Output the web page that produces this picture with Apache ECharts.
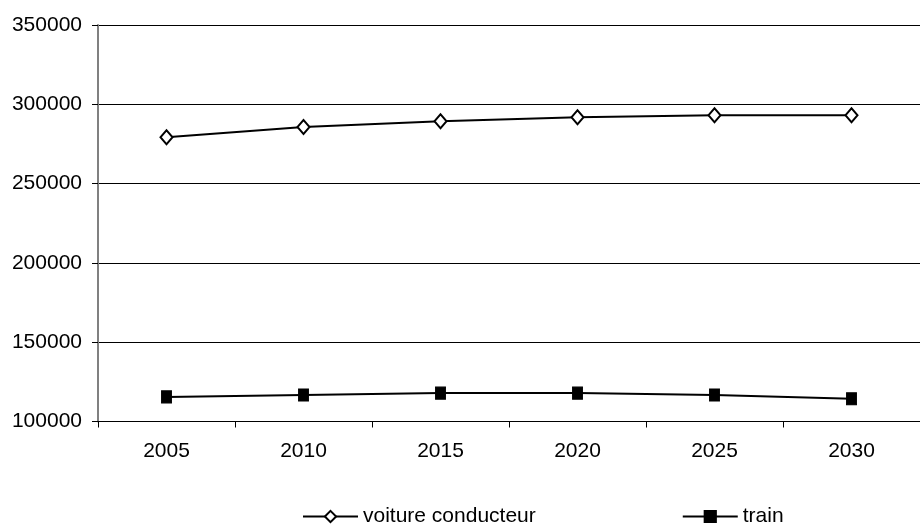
<!DOCTYPE html>
<html>
<head>
<meta charset="utf-8">
<script src="https://cdn.jsdelivr.net/npm/echarts@6/dist/echarts.min.js"></script>
<style>html,body{margin:0;padding:0;background:#fff;}#c{width:920px;height:525px;}</style>
</head>
<body>
<div id="c"></div>
<script>
const categories = ['2005', '2010', '2015', '2020', '2025', '2030'];
const voitureConducteur = [279200, 285700, 289300, 291800, 293100, 293100];
const train = [115500, 116700, 117900, 117900, 116700, 114300];
const seriesNames = ['voiture conducteur', 'train'];
const yTicks = { min: 100000, max: 350000, interval: 50000 };

const chart = echarts.init(document.getElementById('c'), null, { renderer: 'canvas' });
const font = 'Arial, "Liberation Sans", sans-serif';
chart.setOption({
  animation: false,
  backgroundColor: '#ffffff',
  grid: { left: 98, right: -12, top: 25, bottom: 103.5, containLabel: false },
  xAxis: {
    type: 'category',
    data: categories,
    boundaryGap: true,
    axisLine: { lineStyle: { color: '#000', width: 1 } },
    axisTick: { show: true, length: 6, lineStyle: { color: '#000' }, alignWithLabel: false },
    axisLabel: { color: '#000', fontSize: 21, fontFamily: font, margin: 19 },
    splitLine: { show: false }
  },
  yAxis: {
    type: 'value',
    min: yTicks.min, max: yTicks.max, interval: yTicks.interval,
    axisLine: { show: true, lineStyle: { color: '#808080', width: 2 } },
    axisTick: { show: true, length: 6, lineStyle: { color: '#000' } },
    axisLabel: { color: '#000', fontSize: 21, fontFamily: font, margin: 16, formatter: v => String(v) },
    splitLine: { show: true, lineStyle: { color: '#000', width: 1 } }
  },
  legend: {
    top: 501,
    left: 297,
    itemWidth: 55,
    itemHeight: 14,
    itemGap: 146,
    textStyle: { color: '#000', fontSize: 21, fontFamily: font },
    data: seriesNames
  },
  series: [
    {
      name: seriesNames[0], type: 'line', data: voitureConducteur,
      symbol: 'diamond', symbolSize: [12, 14],
      lineStyle: { color: '#000', width: 2 },
      itemStyle: { color: '#fff', borderColor: '#000', borderWidth: 2 }
    },
    {
      name: seriesNames[1], type: 'line', data: train,
      symbol: 'rect', symbolSize: [10, 12],
      lineStyle: { color: '#000', width: 2 },
      itemStyle: { color: '#000', borderColor: '#000', borderWidth: 1 }
    }
  ]
});
</script>
</body>
</html>
